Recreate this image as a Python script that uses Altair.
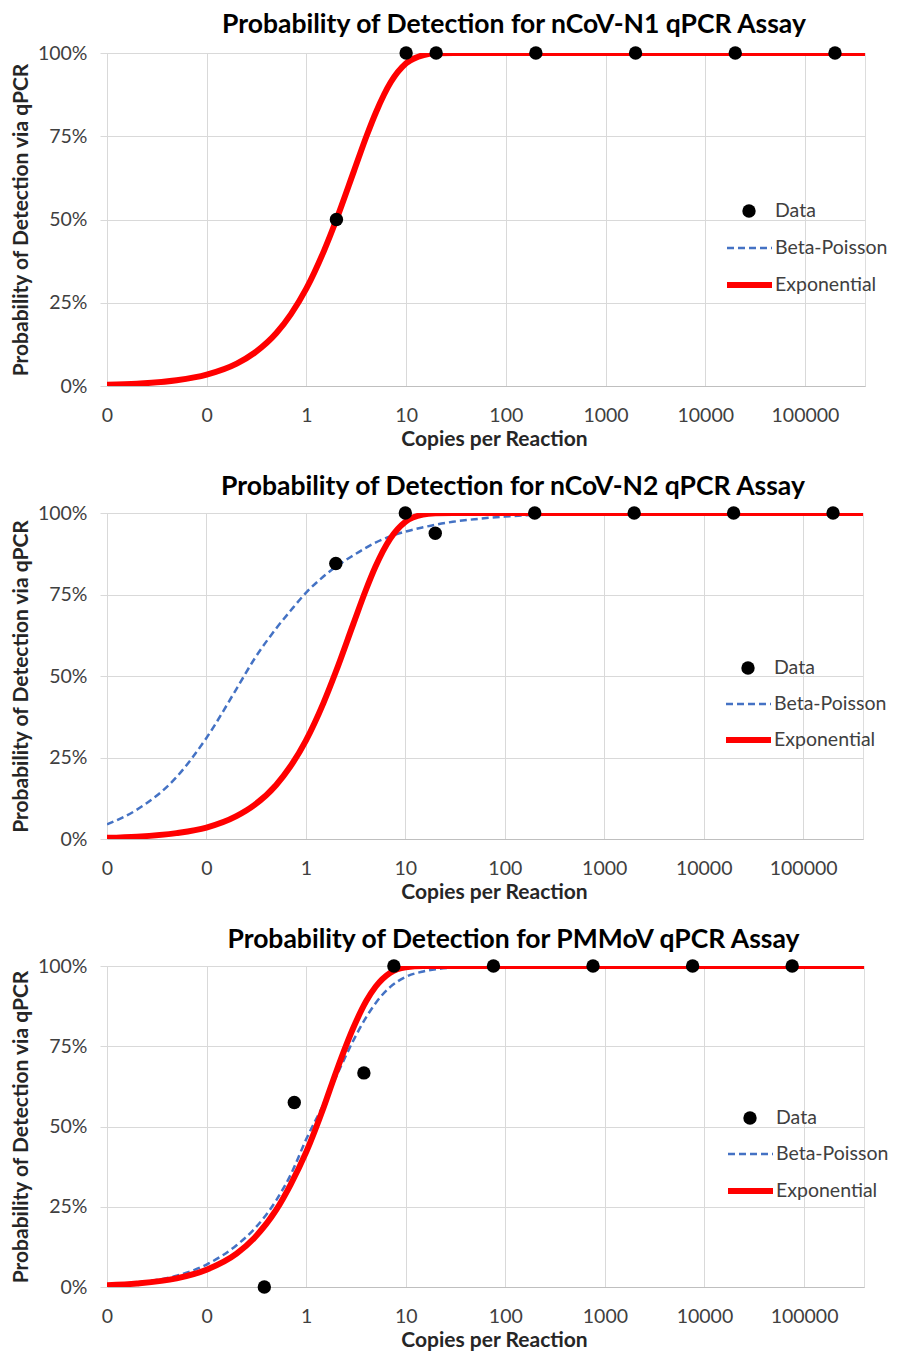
import altair as alt
import pandas as pd

FONT = "Lato"

# x positions (copies per reaction) at which the fitted curves were read
CURVE_X = [0.01, 0.02, 0.05, 0.1, 0.2, 0.3, 0.5, 0.7, 1, 1.5, 2, 3, 4, 5, 7, 10,
           15, 20, 30, 50, 100, 200, 1000, 10000, 100000, 400000]

# nCoV-N1 (percent)
N1_EXP = [0.35, 0.7, 1.7, 3.4, 6.7, 9.9, 15.9, 21.6, 29.3, 40.6, 50, 64.6, 75, 82.3,
          91.2, 96.9, 99.4, 99.9, 100, 100, 100, 100, 100, 100, 100, 100]
N1_BP = [0.35, 0.7, 1.7, 3.4, 6.7, 9.9, 15.9, 21.6, 29.3, 40.6, 50, 64.6, 75, 82.3,
         91.2, 96.9, 99.4, 99.9, 100, 100, 100, 100, 100, 100, 100, 100]
N1_DATA_X = [2, 10, 20, 200, 2000, 20000, 200000]
N1_DATA_Y = [50, 100, 100, 100, 100, 100, 100]

# nCoV-N2 (percent)
N2_EXP = [0.36, 0.72, 1.8, 3.5, 7.0, 10.3, 16.5, 22.3, 30.2, 41.7, 51.3, 66, 76.3, 83.5,
          92, 97.3, 99.5, 99.9, 100, 100, 100, 100, 100, 100, 100, 100]
N2_BP = [4.5, 9, 19, 31, 46, 55, 64.5, 70, 75.5, 80.5, 83.5, 87, 89.3, 90.9, 92.8, 94.3,
         95.6, 96.4, 97.3, 98.1, 98.9, 99.4, 99.8, 100, 100, 100]
N2_DATA_X = [2, 10, 20, 200, 2000, 20000, 200000]
N2_DATA_Y = [84.5, 100, 93.8, 100, 100, 100, 100]

# PMMoV (percent)
PM_EXP = [0.55, 1.1, 2.7, 5.4, 10.4, 15.2, 24, 32, 42, 56, 67, 81, 89, 93.6,
          97.9, 99.6, 100, 100, 100, 100, 100, 100, 100, 100, 100, 100]
PM_BP = [0.7, 1.4, 3.5, 7, 13, 18, 27, 35, 46, 57, 65.5, 77, 84, 88.5,
         93.5, 96.6, 98.3, 99, 99.5, 99.8, 100, 100, 100, 100, 100, 100]
PM_DATA_X = [0.38, 0.76, 3.8, 7.6, 76, 760, 7600, 76000]
PM_DATA_Y = [0, 57.5, 66.7, 100, 100, 100, 100, 100]

TITLES = ["Probability of Detection for nCoV-N1 qPCR Assay",
          "Probability of Detection for nCoV-N2 qPCR Assay",
          "Probability of Detection for PMMoV qPCR Assay"]
X_TICKS = [0.01, 0.1, 1, 10, 100, 1000, 10000, 100000]
Y_TICKS = [0, 25, 50, 75, 100]
SERIES = ["Data", "Beta-Poisson", "Exponential"]

GRID = "#D9D9D9"
LBL = "#404040"
LEG_FS = 19.5


def panel(title, dx, dy, exp_y, bp_y, w, h, rows, xs, toff):
    curve_bp = pd.DataFrame({"x": CURVE_X, "y": bp_y, "kind_bp": SERIES[1]})
    curve_ex = pd.DataFrame({"x": CURVE_X, "y": exp_y, "kind_ex": SERIES[2]})
    pts = pd.DataFrame({"x": dx, "y": dy, "kind_pt": SERIES[0]})

    xenc = alt.X("x:Q",
                 scale=alt.Scale(type="log", domain=[0.01, 400000], nice=False),
                 axis=alt.Axis(values=X_TICKS, labelExpr="format(datum.value, '.0f')",
                               title="Copies per Reaction", ticks=False, tickSize=0,
                               labelPadding=20, titlePadding=4, grid=True,
                               gridColor=GRID, domainColor="#BFBFBF",
                               labelFontSize=19.5, labelColor=LBL, labelFont=FONT,
                               titleFont=FONT, titleFontSize=21, titleFontWeight="bold",
                               titleColor="#262626", labelFlush=False,
                               titleX=387, titleAlign="center"))
    yenc = alt.Y("y:Q",
                 scale=alt.Scale(domain=[0, 100], nice=False),
                 axis=alt.Axis(values=Y_TICKS, labelExpr="datum.value + '%'",
                               title="Probability of Detection via qPCR",
                               tickColor=GRID, tickSize=7, labelPadding=13,
                               titlePadding=6, grid=True, gridColor=GRID,
                               domain=False, labelFontSize=19.5, labelColor=LBL,
                               labelFont=FONT, titleFont=FONT, titleFontSize=21,
                               titleFontWeight="bold", titleColor="#262626"))

    r_data, r_bp, r_ex = rows
    bp = alt.Chart(curve_bp).mark_line(
        color="#4472C4", strokeWidth=2.5, clip=True, interpolate="monotone"
    ).encode(
        x=xenc, y=yenc,
        strokeDash=alt.StrokeDash(
            "kind_bp:N",
            scale=alt.Scale(domain=[SERIES[1]], range=[[7, 4]]),
            legend=alt.Legend(orient="none", legendX=618.5 + xs, legendY=r_bp - 24,
                              title=None, symbolType="stroke", symbolSize=2025,
                              symbolStrokeColor="#4472C4", symbolStrokeWidth=2.5,
                              labelOffset=1.5, labelFontSize=LEG_FS, labelFont=FONT,
                              labelColor=LBL, padding=0)))
    ex = alt.Chart(curve_ex).mark_line(
        strokeWidth=6, clip=True, interpolate="monotone", strokeCap="round"
    ).encode(
        x=xenc, y=yenc,
        color=alt.Color(
            "kind_ex:N",
            scale=alt.Scale(domain=[SERIES[2]], range=["#FF0000"]),
            legend=alt.Legend(orient="none", legendX=617 + xs, legendY=r_ex - 25.5,
                              title=None, symbolType="stroke", symbolSize=2025,
                              symbolStrokeWidth=6, labelOffset=0, labelFontSize=LEG_FS,
                              labelFont=FONT, labelColor=LBL, padding=0)))
    pt = alt.Chart(pts).mark_point(
        filled=True, size=180, color="black", opacity=1
    ).encode(
        x=xenc, y=yenc,
        shape=alt.Shape(
            "kind_pt:N",
            scale=alt.Scale(domain=[SERIES[0]], range=["circle"]),
            legend=alt.Legend(orient="none", legendX=632.25 + xs,
                              legendY=r_data - LEG_FS / 2,
                              title=None, symbolSize=180, symbolFillColor="black",
                              symbolStrokeColor="black", symbolStrokeWidth=0,
                              symbolOpacity=1, labelOffset=16.25, labelFontSize=LEG_FS,
                              labelFont=FONT, labelColor=LBL, padding=0)))

    return alt.layer(bp, ex, pt).properties(
        width=w, height=h,
        title=alt.TitleParams(title, font=FONT, fontSize=26.5, fontWeight="bold",
                              color="black", anchor="middle", dx=28, offset=toff)
    )


p1 = panel(TITLES[0], N1_DATA_X, N1_DATA_Y, N1_EXP, N1_BP, 758, 333,
           (158, 195, 232), 0, 5)
p2 = panel(TITLES[1], N2_DATA_X, N2_DATA_Y, N2_EXP, N2_BP, 756, 326,
           (155, 191, 227), -1, 3)
p3 = panel(TITLES[2], PM_DATA_X, PM_DATA_Y, PM_EXP, PM_BP, 757, 321,
           (152, 188, 225), 1, 3)

chart = alt.vconcat(p1, p2, p3, spacing=23).resolve_scale(
    x="independent", y="independent", color="independent",
    shape="independent", strokeDash="independent"
).resolve_legend(
    color="independent", shape="independent", strokeDash="independent"
).properties(
    padding={"left": 1, "top": 3, "right": 0, "bottom": 0}
).configure_view(stroke=None).configure(background="white")

chart.save("out.html", embed_options={"renderer": "svg", "actions": False})
